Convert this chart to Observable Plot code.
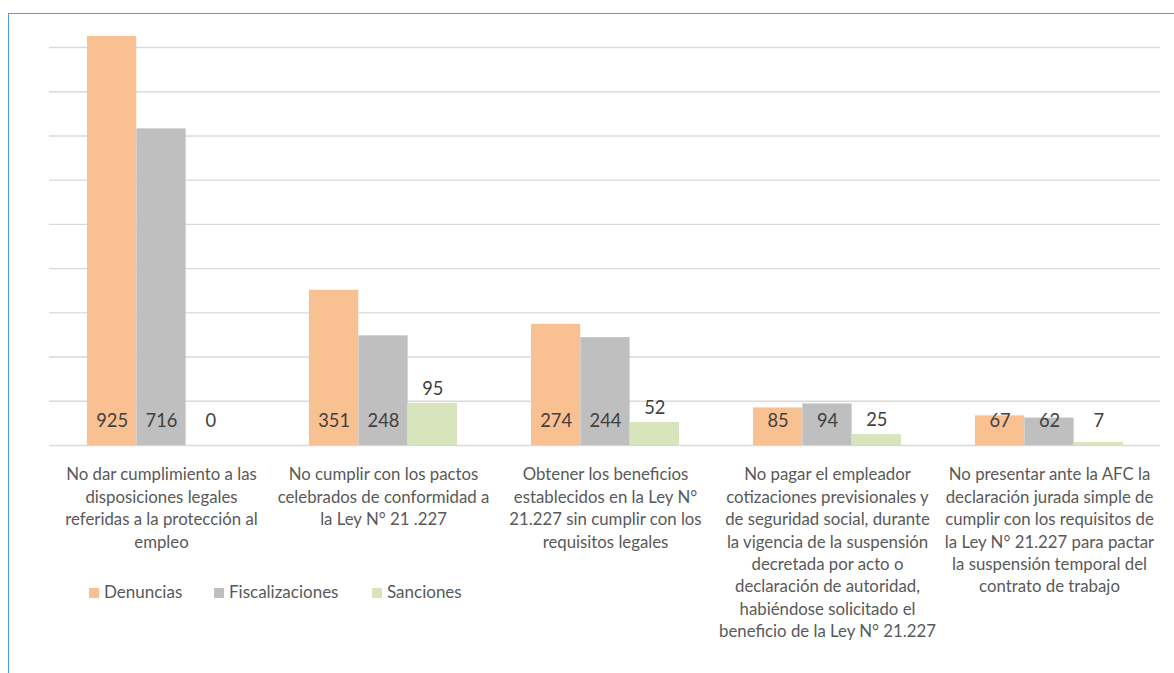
<!DOCTYPE html>
<html>
<head>
<meta charset="utf-8">
<script src="https://cdn.jsdelivr.net/npm/d3@7"></script>
<script src="https://cdn.jsdelivr.net/npm/@observablehq/plot@0.6"></script>
<style>
  html, body { margin: 0; padding: 0; background: #fff; width: 1174px; height: 673px; overflow: hidden; font-family: Lato, "Open Sans", sans-serif; }
  #wrap { position: relative; width: 1174px; height: 673px; }
  #frame { position: absolute; left: 8px; top: 13px; width: 1200px; height: 700px; border: 1.5px solid #5b9bd5; box-sizing: border-box; }
  #chart { position: absolute; left: 0; top: 0; }
  #legend { position: absolute; left: 0; top: 582px; height: 20px; font: 17px Lato, sans-serif; color: #595959; }
  #legend .item { position: absolute; top: 0; white-space: nowrap; line-height: 20px; }
  #legend .sw { display: inline-block; width: 10px; height: 10px; margin-right: 5px; vertical-align: 0px; }
</style>
</head>
<body>
<div id="wrap">
  <div id="frame"></div>
  <div id="chart"></div>
  <div id="legend"></div>
</div>
<script>
// ---- Data ----
const categories = [
  "No dar cumplimiento a las\ndisposiciones legales\nreferidas a la protección al\nempleo",
  "No cumplir con los pactos\ncelebrados de conformidad a\nla Ley N° 21 .227",
  "Obtener los beneficios\nestablecidos en la Ley N°\n21.227 sin cumplir con los\nrequisitos legales",
  "No pagar el empleador\ncotizaciones previsionales y\nde seguridad social, durante\nla vigencia de la suspensión\ndecretada por acto o\ndeclaración de autoridad,\nhabiéndose solicitado el\nbeneficio de la Ley N° 21.227",
  "No presentar ante la AFC la\ndeclaración jurada simple de\ncumplir con los requisitos de\nla Ley N° 21.227 para pactar\nla suspensión temporal del\ncontrato de trabajo"
];
const seriesNames = ["Denuncias", "Fiscalizaciones", "Sanciones"];
const denuncias = [925, 351, 274, 85, 67];
const fiscalizaciones = [716, 248, 244, 94, 62];
const sanciones = [0, 95, 52, 25, 7];
const seriesColors = ["#f9c191", "#bfbfbf", "#d8e4bc"];
const yTicks = [0, 100, 200, 300, 400, 500, 600, 700, 800, 900];

// ---- Build table ----
const seriesValues = [denuncias, fiscalizaciones, sanciones];
const table = [];
seriesNames.forEach((s, si) => {
  categories.forEach((c, ci) => {
    table.push({category: c, series: s, si, value: seriesValues[si][ci]});
  });
});

// ---- Layout ----
const W = 1174, H = 673;
const mL = 49, mR = 14, mT = 47, mB = 228;
const padInner = 1 / 3, padOuter = 1 / 6;
const step = (W - mL - mR) / (categories.length - padInner + 2 * padOuter);
const bandwidth = step * (1 - padInner);
const slot = bandwidth / seriesNames.length;

// label placement rule (data units): counts near the base, sanctions above the bar
const basePos = 54;
const labelY = d => d.si < 2 ? basePos : Math.max(d.value + 31.6, basePos);

const catFont = 16.8;
const marks = [
  Plot.ruleY(yTicks, {stroke: "#d9d9d9", strokeWidth: 1.4}),
];
seriesNames.forEach((s, si) => {
  marks.push(Plot.barY(table.filter(d => d.si === si), {
    x: "category", y: "value", fill: "series",
    insetLeft: si * slot, insetRight: (seriesNames.length - 1 - si) * slot
  }));
  marks.push(Plot.text(table.filter(d => d.si === si), {
    x: "category", y: labelY, text: d => String(d.value),
    dx: (si - (seriesNames.length - 1) / 2) * slot,
    fontSize: 18.3, fill: "#404040", fontFamily: "Lato"
  }));
});
marks.push(Plot.axisX({
  tickSize: 0, tickPadding: 19, fontSize: catFont, lineHeight: 22.4 / catFont,
  fill: "#595959", label: null, fontFamily: "Lato"
}));

const plot = Plot.plot({
  width: W, height: H,
  marginLeft: mL, marginRight: mR, marginTop: mT, marginBottom: mB,
  style: {fontFamily: "Lato", background: "transparent", overflow: "visible"},
  x: {domain: categories, paddingInner: padInner, paddingOuter: padOuter, axis: null},
  y: {domain: [0, 900], axis: null},
  color: {domain: seriesNames, range: seriesColors},
  marks
});
document.getElementById("chart").appendChild(plot);

// ---- Legend ----
const legend = document.getElementById("legend");
const legendX = [89, 214, 372];
seriesNames.forEach((s, i) => {
  const it = document.createElement("div");
  it.className = "item";
  it.style.left = legendX[i] + "px";
  it.innerHTML = `<span class="sw" style="background:${seriesColors[i]}"></span>${s}`;
  legend.appendChild(it);
});
</script>
</body>
</html>
